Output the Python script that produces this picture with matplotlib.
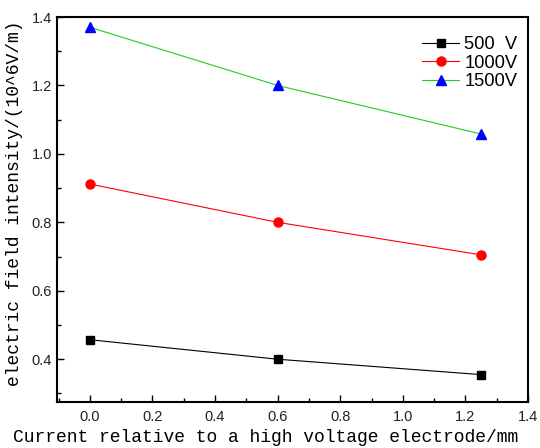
import matplotlib
matplotlib.use("Agg")
import matplotlib.pyplot as plt
from matplotlib.ticker import MultipleLocator

x = [0.0, 0.6, 1.25]
v500 = [0.457, 0.400, 0.355]
v1000 = [0.912, 0.800, 0.705]
v1500 = [1.370, 1.200, 1.058]
labels = ["500  V", "1000V", "1500V"]

fig = plt.figure(figsize=(5.4, 4.48), dpi=100)
ax = fig.add_axes([57/540, 1-402/448, (528-57)/540, (402-17)/448])

ax.plot(x, v500, color="black", lw=0.8, marker="s", ms=6, mfc="black", mec="black", label=labels[0])
ax.plot(x, v1000, color="red", lw=0.8, marker="o", ms=6.5, mfc="red", mec="red", label=labels[1])
ax.plot(x, v1500, color="#22cc22", lw=0.8, marker="^", ms=7, mfc="blue", mec="blue", label=labels[2])

ax.set_xlim(-0.105, 1.4)
ax.set_ylim(0.275, 1.4)
ax.xaxis.set_major_locator(MultipleLocator(0.2))
ax.xaxis.set_minor_locator(MultipleLocator(0.1))
ax.yaxis.set_major_locator(MultipleLocator(0.2))
ax.yaxis.set_minor_locator(MultipleLocator(0.1))
ax.tick_params(which="both", direction="in", top=False, right=False, labelsize=10.5)
ax.tick_params(axis="y", pad=3.5)
ax.tick_params(axis="x", pad=6)
ax.tick_params(which="major", length=5, width=1)
ax.tick_params(which="minor", length=3, width=1)
for lab in ax.get_xticklabels() + ax.get_yticklabels():
    lab.set_family("Liberation Sans")
    lab.set_color("#222222")
for s in ax.spines.values():
    s.set_linewidth(1.5)

fig.text(266/540, 1-437/448, "Current relative to a high voltage electrode/mm",
         family="Liberation Mono", fontsize=13, ha="center", va="center")
fig.text(15/540, 1-203/448, "electric field intensity/(10^6V/m)",
         family="Liberation Mono", fontsize=13, ha="center", va="center", rotation=90)

leg = ax.legend(loc="upper right", bbox_to_anchor=(1.013, 0.993), frameon=False,
                prop={"family": "Liberation Sans", "size": 13.2}, handlelength=2.0,
                handletextpad=0.3, labelspacing=0.08)

fig.savefig("out.png", dpi=100)
